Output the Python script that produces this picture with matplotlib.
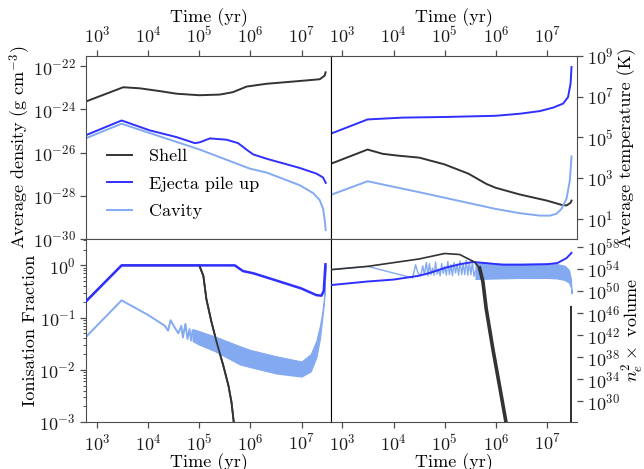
import numpy as np
import matplotlib
matplotlib.use("Agg")
import matplotlib.pyplot as plt
import matplotlib.ticker as tk

# all values are log10 of the quantity
# --- average density
rho_shell_t = [2.785, 3.514, 3.84, 4.23, 4.556, 5.0, 5.40, 5.656, 5.924, 6.314, 6.918, 7.355, 7.453, 7.47]
rho_shell = [-23.63, -22.97, -23.02, -23.15, -23.27, -23.34, -23.31, -23.2, -22.94, -22.81, -22.69, -22.6, -22.43, -22.28]
rho_ej_t = [2.785, 3.482, 4.035, 4.556, 4.914, 5.012, 5.207, 5.533, 5.760, 5.924, 6.053, 6.314, 6.965, 7.291, 7.42, 7.473]
rho_ej = [-25.19, -24.51, -24.97, -25.28, -25.56, -25.52, -25.34, -25.40, -25.56, -25.86, -26.08, -26.28, -26.71, -26.97, -27.15, -27.40]
rho_cav_t = [2.785, 3.482, 4.361, 5.012, 5.988, 6.314, 6.965, 7.225, 7.355, 7.42, 7.453, 7.473]
rho_cav = [-25.33, -24.66, -25.35, -25.86, -26.74, -26.92, -27.51, -27.87, -28.20, -28.59, -29.13, -29.59]

# --- average temperature
T_shell_t = [2.773, 3.49, 3.784, 4.047, 4.504, 4.994, 5.465, 5.812, 5.994, 6.465, 6.994, 7.282, 7.38, 7.459, 7.478]
T_shell = [3.70, 4.40, 4.19, 4.11, 4.0, 3.67, 3.21, 2.71, 2.52, 2.19, 1.89, 1.68, 1.65, 1.78, 1.89]
T_ej_t = [2.773, 3.49, 4.176, 4.994, 5.994, 6.465, 6.857, 7.118, 7.314, 7.41, 7.459, 7.478]
T_ej = [5.18, 5.88, 5.97, 6.0, 6.06, 6.16, 6.29, 6.46, 6.66, 6.98, 7.64, 8.46]
T_cav_t = [2.773, 3.49, 4.504, 5.994, 6.465, 6.857, 7.053, 7.184, 7.282, 7.38, 7.445, 7.478]
T_cav = [2.17, 2.84, 2.30, 1.48, 1.27, 1.15, 1.15, 1.24, 1.48, 1.98, 2.88, 4.06]

# --- ionisation fraction
x_shell_t = [2.785, 3.482, 5.0, 5.08, 5.14, 5.24, 5.34, 5.47, 5.57, 5.63, 5.68]
x_shell = [-0.69, 0.0, 0.0, -0.2, -0.65, -1.09, -1.47, -1.92, -2.30, -2.62, -3.05]
x_ej_t = [2.785, 3.482, 5.695, 5.857, 6.053, 6.443, 6.99, 7.291, 7.389, 7.434, 7.467]
x_ej = [-0.69, 0.0, 0.0, -0.11, -0.15, -0.27, -0.44, -0.57, -0.58, -0.49, 0.02]
x_cav_t = [2.785, 3.482, 4.0, 4.33, 4.39, 4.44, 4.52, 4.59, 4.65, 4.68, 4.73, 4.77, 4.81, 4.84, 4.87]
x_cav = [-1.37, -0.67, -0.95, -1.16, -1.25, -1.05, -1.19, -1.30, -1.16, -1.38, -1.12, -1.41, -1.22, -1.44, -1.25]
x_cav_band_t = [4.87, 5.0, 5.3, 5.8, 6.0, 6.5, 7.0, 7.18, 7.29, 7.36, 7.40, 7.43, 7.45, 7.467]
x_cav_hi = [-1.22, -1.26, -1.36, -1.55, -1.62, -1.74, -1.84, -1.70, -1.44, -1.15, -0.93, -0.70, -0.49, 0.0]
x_cav_lo = [-1.45, -1.52, -1.64, -1.90, -1.95, -2.07, -2.13, -2.03, -1.76, -1.40, -1.05, -0.80, -0.55, 0.0]

# --- n_e^2 x volume
n_shell_t = [2.773, 3.49, 4.5, 4.994, 5.29, 5.58, 5.68, 5.745, 5.81, 5.94, 6.07, 6.2, 6.3, 7.465, 7.468, 7.47]
n_shell = [53.9, 54.5, 55.85, 56.84, 56.66, 55.3, 54.2, 51.75, 46.8, 39.5, 32.8, 26.0, 20.0, 20.0, 47.2, 20.0]
n_ej_t = [2.773, 3.49, 4.0, 4.5, 4.7, 5.03, 5.3, 5.55, 5.8, 6.14, 6.5, 7.0, 7.2, 7.38, 7.478]
n_ej = [51.1, 51.75, 52.1, 52.8, 53.3, 54.3, 54.9, 55.3, 55.1, 54.8, 54.8, 54.9, 55.1, 56.0, 56.95]
n_cav_t = [2.773, 3.49, 4.37, 4.43, 4.48, 4.53, 4.57, 4.60, 4.64, 4.67, 4.70, 4.73, 4.76, 4.79,
           4.82, 4.85, 4.88, 4.91, 4.94, 4.97, 5.00, 5.03, 5.06, 5.09, 5.12, 5.15, 5.18, 5.21,
           5.24, 5.27, 5.30, 5.33, 5.36, 5.39, 5.42, 5.45, 5.48, 5.51, 5.54, 5.57, 5.6]
n_cav = [53.9, 54.5, 52.4, 54.8, 53.2, 52.9, 54.6, 53.0, 55.2, 52.8, 55.0, 53.0, 54.2, 52.9,
         55.3, 53.1, 54.0, 52.8, 55.0, 53.2, 54.5, 52.9, 55.4, 53.0, 54.8, 52.8, 55.2, 53.3,
         54.9, 52.9, 55.5, 53.0, 55.0, 53.0, 55.6, 52.9, 55.2, 53.0, 55.3, 52.7, 53.7]
n_cav_band_t = [5.6, 6.0, 6.5, 7.0, 7.2, 7.35, 7.43, 7.47, 7.48]
n_cav_hi = [55.2, 55.0, 55.0, 55.0, 54.9, 54.6, 53.8, 52.0, 49.6]
n_cav_lo = [52.2, 52.3, 52.4, 52.4, 52.3, 52.0, 51.5, 50.5, 49.6]

labels = ["Shell", "Ejecta pile up", "Cavity"]
c_shell, c_ej, c_cav = "#333333", "#2f2fff", "#83aaf1"


def p(v):
    return 10.0 ** np.asarray(v)


plt.rcParams.update({
    "font.family": "serif",
    "font.serif": ["cmr10"],
    "mathtext.fontset": "cm",
    "axes.formatter.use_mathtext": True,
    "axes.unicode_minus": False,
    "font.size": 13,
    "axes.edgecolor": "0.3",
    "xtick.color": "0.3",
    "ytick.color": "0.3",
    "xtick.labelcolor": "0.1",
    "ytick.labelcolor": "0.1",
})

fig, axs = plt.subplots(2, 2, figsize=(6.44, 4.69), dpi=100)
fig.subplots_adjust(left=0.1335, right=0.896, top=0.8806, bottom=0.1002, wspace=0, hspace=0)
ax_rho, ax_T = axs[0]
ax_x, ax_n = axs[1]

lw = 1.4
ax_rho.plot(p(rho_shell_t), p(rho_shell), color=c_shell, lw=lw, label=labels[0])
ax_rho.plot(p(rho_ej_t), p(rho_ej), color=c_ej, lw=lw, label=labels[1])
ax_rho.plot(p(rho_cav_t), p(rho_cav), color=c_cav, lw=lw, label=labels[2])

ax_T.plot(p(T_shell_t), p(T_shell), color=c_shell, lw=lw)
ax_T.plot(p(T_ej_t), p(T_ej), color=c_ej, lw=lw)
ax_T.plot(p(T_cav_t), p(T_cav), color=c_cav, lw=lw)

ax_x.plot(p(x_shell_t), p(x_shell), color=c_shell, lw=1.3, zorder=1)
ax_x.plot(p(x_ej_t), p(x_ej), color=c_ej, lw=1.8, zorder=4)
ax_x.plot(p(x_cav_t), p(x_cav), color=c_cav, lw=lw)
ax_x.fill_between(p(x_cav_band_t), p(x_cav_lo), p(x_cav_hi), color=c_cav, lw=0.8)
ax_x.plot(p(x_shell_t[2:]), p(x_shell[2:]), color=c_shell, lw=1.3, zorder=3)

# thin line for the whole shell curve, thicker (noisy) band for its steep fall
ax_n.plot(p(n_ej_t), p(n_ej), color=c_ej, lw=lw, zorder=3)
ax_n.plot(p(n_cav_t), p(n_cav), color=c_cav, lw=1.0)
ax_n.fill_between(p(n_cav_band_t), p(n_cav_lo), p(n_cav_hi), color=c_cav, lw=0.8)
ax_n.plot(p(n_shell_t), p(n_shell), color=c_shell, lw=1.2, zorder=3)
ax_n.plot(p(n_shell_t[6:13]), p(n_shell[6:13]), color=c_shell, lw=2.6, zorder=3)

for ax in axs.flat:
    ax.set_xscale("log")
    ax.set_yscale("log")
    ax.set_xlim(6.1e2, 3.85e7)
    ax.xaxis.set_major_locator(tk.LogLocator(base=10, numticks=10))
    ax.xaxis.set_minor_locator(tk.NullLocator())
    ax.tick_params(which="major", direction="out", length=4, width=0.9)
    ax.tick_params(which="minor", direction="out", length=2, width=0.7)

for ax in axs[0]:
    ax.xaxis.tick_top()
    ax.xaxis.set_label_position("top")
    ax.set_xlabel("Time (yr)", labelpad=2)
for ax in axs[1]:
    ax.set_xlabel("Time (yr)", labelpad=0)

for ax in axs[:, 1]:
    ax.yaxis.tick_right()
    ax.yaxis.set_label_position("right")
    ax.spines["left"].set_color("k")
for ax in axs[:, 0]:
    ax.spines["right"].set_color("k")
ax_n.spines["right"].set_visible(False)

ax_rho.set_ylim(1e-30, 3e-22)
ax_rho.set_yticks(p([-30, -28, -26, -24, -22]))
ax_rho.yaxis.set_minor_locator(tk.NullLocator())
ax_rho.set_ylabel("Average density (g cm$^{-3}$)", labelpad=0)

ax_T.set_ylim(1.0, 1e9)
ax_T.set_yticks(p([1, 3, 5, 7, 9]))
ax_T.yaxis.set_minor_locator(tk.NullLocator())
ax_T.set_ylabel("Average temperature (K)", labelpad=2)

ax_x.set_ylim(1e-3, 3.2)
ax_x.set_ylabel("Ionisation Fraction", labelpad=1)

ax_n.set_ylim(1.6e26, 3e59)
ax_n.set_yticks(p([30, 34, 38, 42, 46, 50, 54, 58]))
ax_n.yaxis.set_minor_locator(tk.NullLocator())
ax_n.set_ylabel(r"$n_e^2 \times$ volume", labelpad=0)

ax_rho.legend(loc="lower left", bbox_to_anchor=(0.02, 0.02), frameon=False,
              handlelength=1.4, handletextpad=0.9, labelspacing=0.65)

fig.savefig("out.png", dpi=100)
